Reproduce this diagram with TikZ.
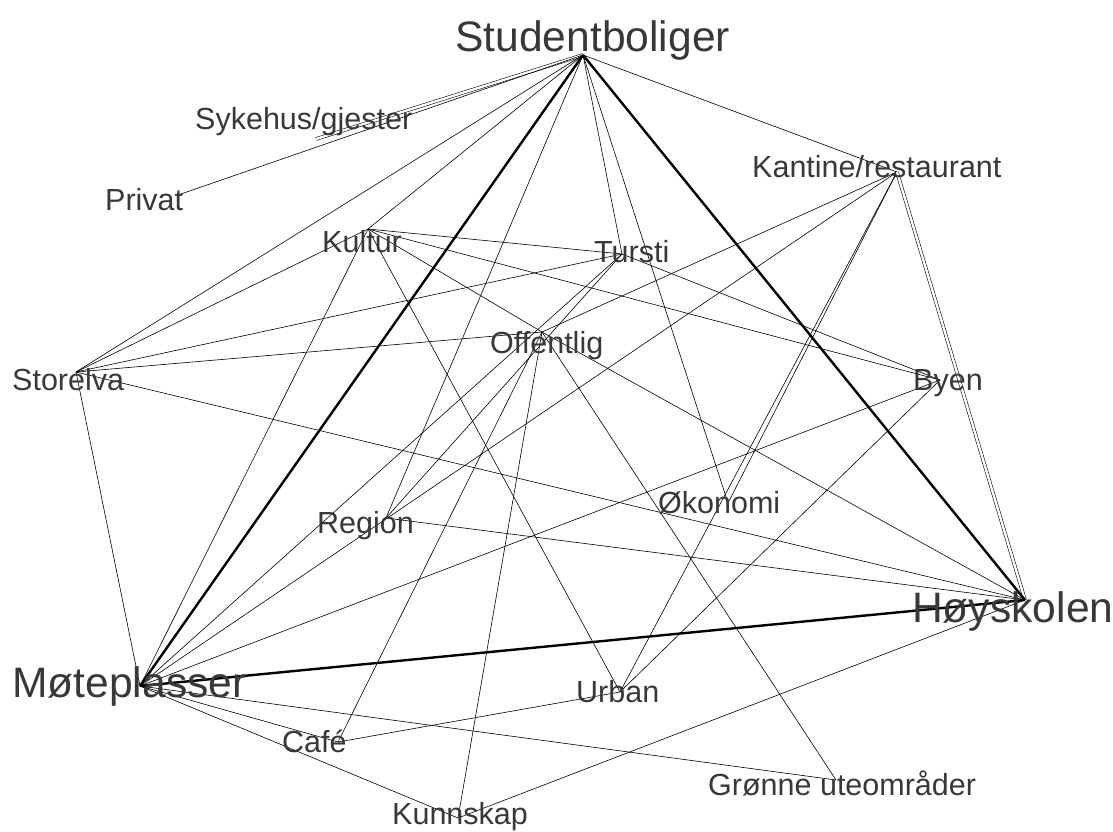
\documentclass[tikz,border=0pt]{standalone}
\usepackage{fontspec}
\setmainfont{Liberation Sans}
\definecolor{txtgray}{HTML}{383838}

\newcommand{\scl}{1pt}
\newcommand{\sml}{\fontsize{30.5}{31}\selectfont}
\newcommand{\lrg}{\fontsize{42.6}{43}\selectfont}

\begin{document}
\begin{tikzpicture}[x=\scl,y=-\scl,
  lab/.style={anchor=base west,inner sep=0pt,text=txtgray,font=\sml},
  big/.style={lab,font=\lrg},
  edge/.style={line width=0.6pt},
  main/.style={line width=2.4pt},
  twin/.style={double,double distance=2.4pt,line width=0.55pt}]
  \useasboundingbox (0,0) rectangle (1113,832);
  % points where the lines meet
  \coordinate (stud) at (583,55);
  \coordinate (syk)  at (316,139);
  \coordinate (priv) at (178,195);
  \coordinate (kult) at (368,229);
  \coordinate (turs) at (622,254);
  \coordinate (kant) at (897,172);
  \coordinate (offe) at (542,332);
  \coordinate (stor) at (76,372);
  \coordinate (byen) at (940,380);
  \coordinate (okon) at (728,503);
  \coordinate (regi) at (386,518);
  \coordinate (hoys) at (1025,600);
  \coordinate (mote) at (140,686);
  \coordinate (urba) at (620,692);
  \coordinate (cafe) at (338,742);
  \coordinate (gron) at (836,780);
  \coordinate (kunn) at (458,818);
%
  \draw[twin] (stud) -- (syk);
  \draw[edge] (stud) -- (priv);
  \draw[edge] (stud) -- (stor);
  \draw[edge] (stud) -- (kult);
  \draw[edge] (stud) -- (regi);
  \draw[edge] (stud) -- (turs);
  \draw[edge] (stud) -- (okon);
  \draw[edge] (stud) -- (kant);
  \draw[edge] (kult) -- (stor);
  \draw[edge] (kult) -- (mote);
  \draw[edge] (kult) -- (turs);
  \draw[edge] (kult) -- (byen);
  \draw[edge] (kult) -- (offe);
  \draw[edge] (kult) -- (urba);
  \draw[edge] (turs) -- (stor);
  \draw[edge] (turs) -- (byen);
  \draw[edge] (turs) -- (mote);
  \draw[edge] (turs) -- (regi);
  \draw[edge] (kant) -- (offe);
  \draw[edge] (kant) -- (mote);
  \draw[edge] (kant) -- (okon);
  \draw[edge] (kant) -- (urba);
  \draw[twin] (kant) -- (hoys);
  \draw[edge] (offe) -- (stor);
  \draw[edge] (offe) -- (hoys);
  \draw[edge] (offe) -- (gron);
  \draw[edge] (offe) -- (kunn);
  \draw[edge] (offe) -- (cafe);
  \draw[edge] (stor) -- (hoys);
  \draw[edge] (stor) -- (mote);
  \draw[edge] (byen) -- (mote);
  \draw[edge] (byen) -- (urba);
  \draw[edge] (regi) -- (hoys);
  \draw[edge] (mote) -- (gron);
  \draw[edge] (mote) -- (cafe);
  \draw[edge] (mote) -- (kunn);
  \draw[edge] (urba) -- (cafe);
  \draw[edge] (kunn) -- (hoys);
%
  \draw[main] (stud) -- (mote);
  \draw[main] (stud) -- (hoys);
  \draw[main] (mote) -- (hoys);
%
  \node[big] (stud-l) at (455,52)  {Studentboliger};
  \node[lab] (syk-l)  at (195,130) {Sykehus/gjester};
  \node[lab] (priv-l) at (105,210) {Privat};
  \node[lab] (kult-l) at (322,252) {Kultur};
  \node[lab] (turs-l) at (594,262) {Tursti};
  \node[lab] (kant-l) at (752,177) {Kantine/restaurant};
  \node[lab] (offe-l) at (490,353) {Offentlig};
  \node[lab] (stor-l) at (12,390)  {Storelva};
  \node[lab] (byen-l) at (913,390) {Byen};
  \node[lab] (okon-l) at (658,513) {Økonomi};
  \node[lab] (regi-l) at (317,533) {Region};
  \node[big] (hoys-l) at (912,622) {Høyskolen};
  \node[big] (mote-l) at (12,697)  {Møteplasser};
  \node[lab] (urba-l) at (576,702) {Urban};
  \node[lab] (cafe-l) at (282,752) {Café};
  \node[lab] (gron-l) at (708,795) {Grønne uteområder};
  \node[lab] (kunn-l) at (392,824) {Kunnskap};
\end{tikzpicture}
\end{document}
